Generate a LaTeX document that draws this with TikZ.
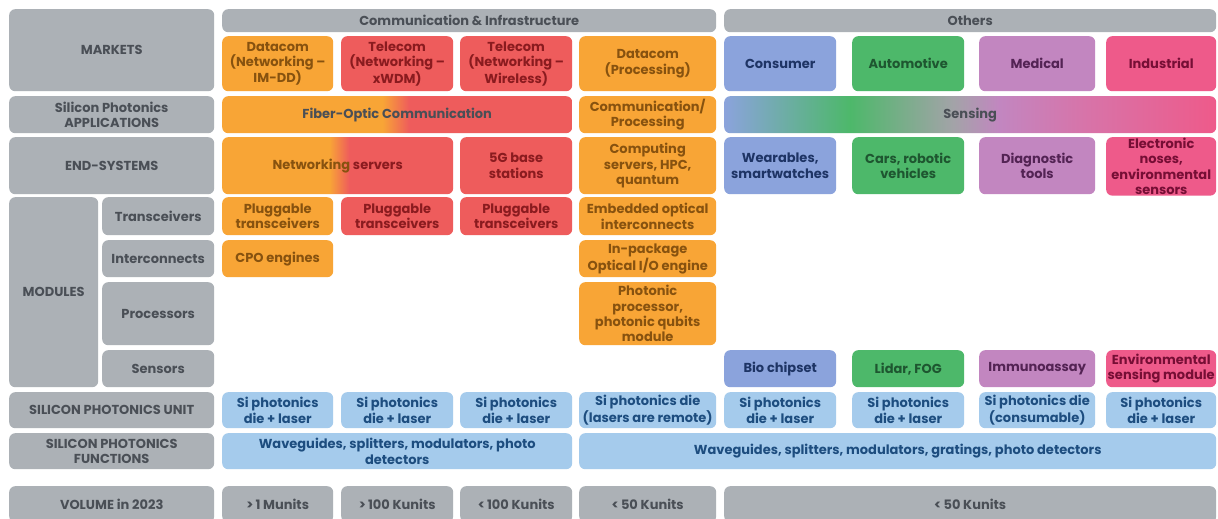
\documentclass[tikz,border=0pt]{standalone}
\usepackage{fontspec}
\setmainfont{Poppins}
\usepackage{tikz}
\usetikzlibrary{shapes.misc}

% palette
\definecolor{cGray}{HTML}{ACB1B6}
\definecolor{cGrayText}{HTML}{4A4F56}
\definecolor{cOrange}{HTML}{F8A536}
\definecolor{cOrangeText}{HTML}{87520F}
\definecolor{cRed}{HTML}{EE5C5C}
\definecolor{cRedText}{HTML}{8A1B1F}
\definecolor{cBlue}{HTML}{8BA3DC}
\definecolor{cBlueText}{HTML}{1E3465}
\definecolor{cGreen}{HTML}{4DB86A}
\definecolor{cGreenText}{HTML}{1E5630}
\definecolor{cPurple}{HTML}{C286C0}
\definecolor{cPurpleText}{HTML}{532354}
\definecolor{cPink}{HTML}{EE5A8A}
\definecolor{cPinkText}{HTML}{760E35}
\definecolor{cSi}{HTML}{A5CBEC}
\definecolor{cSiText}{HTML}{1D4D7F}
\definecolor{cMid}{HTML}{A3A3A8}
\definecolor{cRose}{HTML}{D873A8}

% colour blends of the two wide rows
\pgfdeclarehorizontalshading{fibershade}{100bp}{color(0bp)=(cOrange); color(47.9bp)=(cOrange); color(51.7bp)=(cRed); color(100bp)=(cRed)}
\pgfdeclarehorizontalshading{servershade}{100bp}{color(0bp)=(cOrange); color(48.2bp)=(cOrange); color(52.5bp)=(cRed); color(100bp)=(cRed)}
\pgfdeclarehorizontalshading{sensingshade}{100bp}{color(0bp)=(cBlue); color(25bp)=(cBlue); color(37.8bp)=(cGreen); color(48.3bp)=(cMid); color(53bp)=(cPurple); color(62bp)=(cRose); color(75bp)=(cPink); color(100bp)=(cPink)}

\tikzset{
  cell/.style={rounded corners=6pt, anchor=north west, align=center, inner sep=1pt,
    font=\fontsize{13}{15.3}\selectfont\bfseries},
  wh/.style 2 args={minimum width=#1, minimum height=#2},
  graycell/.style={cell, fill=cGray, text=cGrayText},
  orangecell/.style={cell, fill=cOrange, text=cOrangeText},
  redcell/.style={cell, fill=cRed, text=cRedText},
  bluecell/.style={cell, fill=cBlue, text=cBlueText},
  greencell/.style={cell, fill=cGreen, text=cGreenText},
  purplecell/.style={cell, fill=cPurple, text=cPurpleText},
  pinkcell/.style={cell, fill=cPink, text=cPinkText},
  sicell/.style={cell, fill=cSi, text=cSiText},
}

\begin{document}
\begin{tikzpicture}[x=1pt, y=-1pt]
  \useasboundingbox[fill=white] (0,0) rectangle (1218,519);

  % row labels
  \node[graycell, wh={205}{82}] (lbMarkets) at (9,9) {MARKETS};
  \node[graycell, wh={205}{37}] (lbApps) at (9,96) {Silicon Photonics\\APPLICATIONS};
  \node[graycell, wh={205}{57}] (lbEnd) at (9,137) {END-SYSTEMS};
  \node[graycell, wh={89}{190}] (lbModules) at (9,197) {MODULES};
  \node[graycell, wh={112}{38}] (lbTrans) at (102,197) {Transceivers};
  \node[graycell, wh={112}{37}] (lbInter) at (102,240) {Interconnects};
  \node[graycell, wh={112}{63}] (lbProc) at (102,282) {Processors};
  \node[graycell, wh={112}{37}] (lbSens) at (102,350) {Sensors};
  \node[graycell, wh={205}{36}] (lbUnit) at (9,392) {SILICON PHOTONICS UNIT};
  \node[graycell, wh={205}{36}] (lbFunc) at (9,433) {SILICON PHOTONICS\\FUNCTIONS};
  \node[graycell, wh={205}{36}] (lbVol) at (9,486) {VOLUME in 2023};

  % headers
  \node[graycell, wh={494}{23}] (hdComm) at (222,9) {Communication \& Infrastructure};
  \node[graycell, wh={492}{23}] (hdOthers) at (724,9) {Others};

  % markets
  \node[orangecell, wh={111}{55}] (mkDatacom) at (222,36) {Datacom\\(Networking --\\IM-DD)};
  \node[redcell, wh={112}{55}] (mkWdm) at (341,36) {Telecom\\(Networking --\\xWDM)};
  \node[redcell, wh={112}{55}] (mkWireless) at (460,36) {Telecom\\(Networking --\\Wireless)};
  \node[orangecell, wh={137}{55}] (mkProc) at (579,36) {Datacom\\(Processing)};
  \node[bluecell, wh={112}{55}] (mkConsumer) at (724,36) {Consumer};
  \node[greencell, wh={112}{55}] (mkAuto) at (852,36) {Automotive};
  \node[purplecell, wh={116}{55}] (mkMedical) at (979,36) {Medical};
  \node[pinkcell, wh={110}{55}] (mkIndustrial) at (1106,36) {Industrial};

  % applications
  \node[cell, shade, shading=fibershade, text=cGrayText, wh={350}{37}] (apFiber) at (222,96) {Fiber-Optic Communication};
  \node[orangecell, wh={137}{37}] (apComm) at (579,96) {Communication/\\Processing};
  \node[cell, shade, shading=sensingshade, text=cGrayText, wh={492}{37}] (apSensing) at (724,96) {Sensing};

  % end-systems
  \node[cell, shade, shading=servershade, text=cRedText, wh={231}{57}] (esServers) at (222,137) {\textcolor{cOrangeText}{Networking} servers};
  \node[redcell, wh={112}{57}] (es5g) at (460,137) {5G base\\stations};
  \node[orangecell, wh={137}{57}] (esComputing) at (579,137) {Computing\\servers, HPC,\\quantum};
  \node[bluecell, wh={112}{57}] (esWearables) at (724,137) {Wearables,\\smartwatches};
  \node[greencell, wh={112}{57}] (esCars) at (852,137) {Cars, robotic\\vehicles};
  \node[purplecell, wh={116}{57}] (esDiag) at (979,137) {Diagnostic\\tools};
  \node[pinkcell, wh={110}{57}] (esNoses) at (1106,137) {Electronic\\noses,\\environmental\\sensors};

  % modules
  \node[orangecell, wh={111}{38}] (moPlugA) at (222,197) {Pluggable\\transceivers};
  \node[redcell, wh={112}{38}] (moPlugB) at (341,197) {Pluggable\\transceivers};
  \node[redcell, wh={112}{38}] (moPlugC) at (460,197) {Pluggable\\transceivers};
  \node[orangecell, wh={137}{38}] (moEmbedded) at (579,197) {Embedded optical\\interconnects};
  \node[orangecell, wh={111}{37}] (moCpo) at (222,240) {CPO engines};
  \node[orangecell, wh={137}{37}] (moInPkg) at (579,240) {In-package\\Optical I/O engine};
  \node[orangecell, wh={137}{63}] (moPhotonic) at (579,282) {Photonic\\processor,\\photonic qubits\\module};
  \node[bluecell, wh={112}{37}] (moBio) at (724,350) {Bio chipset};
  \node[greencell, wh={112}{37}] (moLidar) at (852,350) {Lidar, FOG};
  \node[purplecell, wh={116}{37}] (moImmuno) at (979,350) {Immunoassay};
  \node[pinkcell, wh={110}{37}] (moEnv) at (1106,350) {Environmental\\sensing module};

  % silicon photonics unit
  \node[sicell, wh={111}{36}] (unA) at (222,392) {Si photonics\\die + laser};
  \node[sicell, wh={112}{36}] (unB) at (341,392) {Si photonics\\die + laser};
  \node[sicell, wh={112}{36}] (unC) at (460,392) {Si photonics\\die + laser};
  \node[sicell, wh={137}{36}] (unD) at (579,392) {Si photonics die\\(lasers are remote)};
  \node[sicell, wh={112}{36}] (unE) at (724,392) {Si photonics\\die + laser};
  \node[sicell, wh={112}{36}] (unF) at (852,392) {Si photonics\\die + laser};
  \node[sicell, wh={116}{36}] (unG) at (979,392) {Si photonics die\\(consumable)};
  \node[sicell, wh={110}{36}] (unH) at (1106,392) {Si photonics\\die + laser};

  % silicon photonics functions
  \node[sicell, wh={350}{36}] (fnComm) at (222,433) {Waveguides, splitters, modulators, photo\\detectors};
  \node[sicell, wh={637}{36}] (fnOthers) at (579,433) {Waveguides, splitters, modulators, gratings, photo detectors};

  % volume
  \node[graycell, wh={111}{36}] (voA) at (222,486) {>\,1 Munits};
  \node[graycell, wh={112}{36}] (voB) at (341,486) {>\,100 Kunits};
  \node[graycell, wh={112}{36}] (voC) at (460,486) {<\,100 Kunits};
  \node[graycell, wh={137}{36}] (voD) at (579,486) {<\,50 Kunits};
  \node[graycell, wh={492}{36}] (voE) at (724,486) {<\,50 Kunits};
\end{tikzpicture}
\end{document}
